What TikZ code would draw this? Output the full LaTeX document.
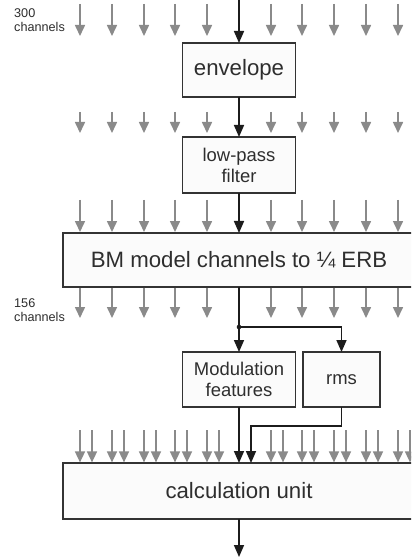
\documentclass[tikz,border=0pt]{standalone}
\usepackage{fontspec}
\setmainfont{Liberation Sans}
\usetikzlibrary{arrows.meta,calc}
\definecolor{txt}{HTML}{2E2E2E}
\definecolor{edge}{HTML}{333333}
\definecolor{garrow}{HTML}{8A8A8A}
\definecolor{barrow}{HTML}{1C1C1C}
\definecolor{boxfill}{HTML}{FBFBFB}
\begin{document}
\begin{tikzpicture}[x=1bp,y=-1bp,
  box/.style={draw=edge,line width=1.3bp,fill=boxfill,text=txt,inner sep=0pt,outer sep=0pt,align=center},
  bigtext/.style={font=\fontsize{22.3}{26}\selectfont},
  midtext/.style={font=\fontsize{18.5}{21}\selectfont},
  smalltext/.style={font=\fontsize{12.7}{14}\selectfont,text=txt,align=left,inner sep=0pt,anchor=west},
  garr/.style={draw=garrow,line width=1.6bp,-{Triangle[width=10bp,length=11bp]},color=garrow},
  barr/.style={draw=barrow,line width=1.6bp,-{Triangle[width=10bp,length=12bp]},color=barrow},
  bline/.style={draw=barrow,line width=1.6bp}]
\clip (0,0) rectangle (411,557);
\fill[white] (0,0) rectangle (411,557);

% boxes
\node[box,bigtext,minimum width=113bp,minimum height=54bp] (env) at (239,70) {envelope};
\node[box,midtext,minimum width=113bp,minimum height=56bp] (lp) at (239,165) {low-pass\\filter};
\node[box,bigtext,minimum width=352bp,minimum height=54bp] (bm) at (239,260) {BM model channels to \char"00BC{} ERB};
\node[box,midtext,minimum width=113bp,minimum height=55bp] (mod) at (239,379.5) {Modulation\\features};
\node[box,midtext,minimum width=77bp,minimum height=55bp] (rms) at (341.5,379.5) {rms};
\node[box,bigtext,minimum width=352bp,minimum height=56bp] (calc) at (239,491) {calculation unit};

% labels
\node[smalltext] (l300) at (14,20.5) {300\\channels};
\node[smalltext] (l156) at (14,310) {156\\channels};

% gray arrows
\foreach \x in {80,112,144,175,207,271,302,334,366,398}{
  \draw[garr] (\x,4) -- (\x,36);
  \draw[garr] (\x,112) -- (\x,133);
  \draw[garr] (\x,200) -- (\x,232);
  \draw[garr] (\x,287.6) -- (\x,318);
  \draw[garr] (\x,430) -- (\x,462.4);
  \draw[garr] (\x+12,430) -- (\x+12,462.4);
}

% black connectors
\coordinate (in) at (239,0);
\coordinate (dot) at (239,327);
\coordinate (out) at (239,557);
\coordinate (bend) at ($(rms.south)+(0,19)$);
\coordinate (calcin) at ($(calc.north)+(12,0)$);
\draw[barr] (in) -- (env.north);
\draw[barr] (env.south) -- (lp.north);
\draw[barr] (lp.south) -- (bm.north);
\draw[bline] (bm.south) -- (dot);
\draw[barr] (dot) -- (mod.north);
\draw[barr] (dot) -| (rms.north);
\fill[barrow] (dot) circle (2.3bp);
\draw[barr] (mod.south) -- (calc.north);
\draw[barr] (rms.south) -- (bend) -| (calcin);
\draw[barr] (calc.south) -- (out);
\end{tikzpicture}
\end{document}
